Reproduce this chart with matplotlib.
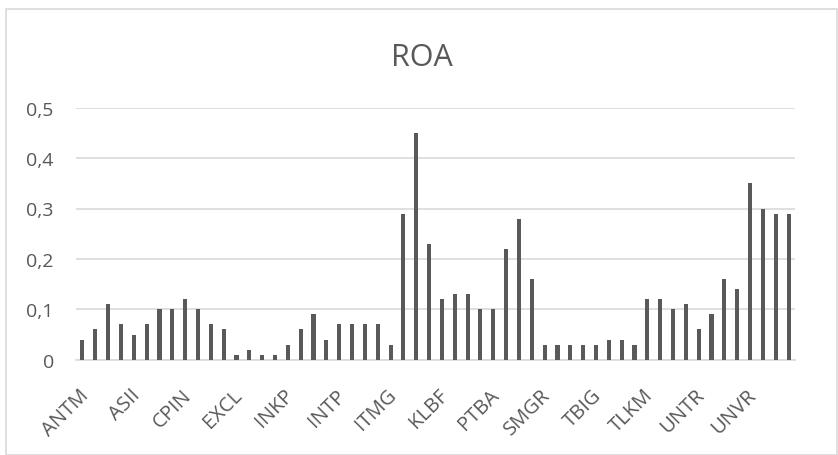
import matplotlib
matplotlib.use("Agg")
import matplotlib.pyplot as plt
from matplotlib.ticker import FuncFormatter
from matplotlib.patches import Rectangle
from matplotlib.transforms import ScaledTranslation
import numpy as np

companies = ["ANTM", "ASII", "CPIN", "EXCL", "INKP", "INTP", "ITMG",
             "KLBF", "PTBA", "SMGR", "TBIG", "TLKM", "UNTR", "UNVR"]
years_per_company = 4
roa = [0.04, 0.06, 0.11, 0.07,
       0.05, 0.07, 0.10, 0.10,
       0.12, 0.10, 0.07, 0.06,
       0.01, 0.02, 0.01, 0.01,
       0.03, 0.06, 0.09, 0.04,
       0.07, 0.07, 0.07, 0.07,
       0.03, 0.29, 0.45, 0.23,
       0.12, 0.13, 0.13, 0.10,
       0.10, 0.22, 0.28, 0.16,
       0.03, 0.03, 0.03, 0.03,
       0.03, 0.04, 0.04, 0.03,
       0.12, 0.12, 0.10, 0.11,
       0.06, 0.09, 0.16, 0.14,
       0.35, 0.30, 0.29, 0.29]
yticks = [0, 0.1, 0.2, 0.3, 0.4, 0.5]

plt.rcParams['font.family'] = ['Open Sans', 'DejaVu Sans']
grey = "#595959"

fig = plt.figure(figsize=(8.38, 4.56), dpi=100)
ax = fig.add_axes([76/838, 1-360.7/456, (795-76)/838, (360.7-108.7)/456])

x = np.arange(len(roa))
ax.bar(x, roa, width=0.32, color=grey, zorder=3)
ax.set_xlim(-0.5, len(roa)-0.5)
ax.set_ylim(0, 0.5)
ax.set_yticks(yticks)
ax.yaxis.set_major_formatter(FuncFormatter(lambda v, p: ("%g" % round(v, 2)).replace(".", ",")))
ax.grid(axis="y", color="#d9d9d9", linewidth=1.2, zorder=0)
ax.set_axisbelow(True)
for s in ["top", "right", "left"]:
    ax.spines[s].set_visible(False)
ax.spines["bottom"].set_color("#d9d9d9")
ax.spines["bottom"].set_linewidth(1.2)

ax.set_xticks(x[::years_per_company])
ax.set_xticklabels(companies, rotation=45, ha="right", va="top", rotation_mode="anchor")
ax.tick_params(axis="x", length=0, pad=18, labelsize=14.5, labelcolor=grey)
ax.tick_params(axis="y", length=0, pad=16, labelsize=14, labelcolor=grey)
shift = ScaledTranslation(-4/100, 0, fig.dpi_scale_trans)
for lbl in ax.get_xticklabels():
    lbl.set_transform(lbl.get_transform() + shift)

fig.text(0.504, 1-66/456, "ROA", ha="center", va="baseline", fontsize=22, color=grey)

fig.patches.append(Rectangle((6/838, 1-455.5/456), (836.5-6)/838, (455.5-9.5)/456,
                             transform=fig.transFigure, fill=False,
                             edgecolor="#d9d9d9", linewidth=1.2))

fig.savefig("out.png", dpi=100)
